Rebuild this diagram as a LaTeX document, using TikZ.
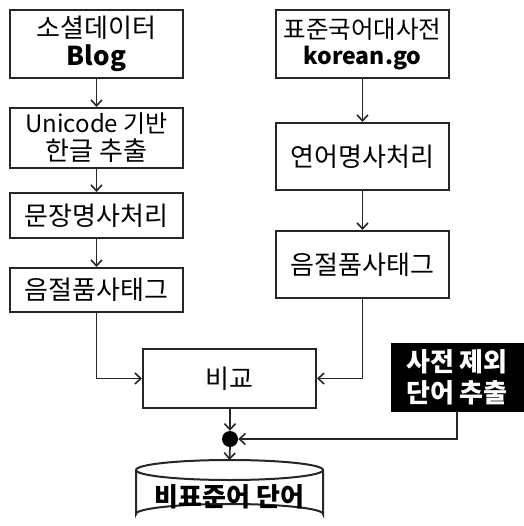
\documentclass[tikz,border=0pt]{standalone}
\usepackage{fontspec}
\setmainfont{Noto Sans CJK KR}
\usetikzlibrary{arrows.meta}
\begin{document}
\begin{tikzpicture}[x=1pt,y=-1pt,
  box/.style={draw=black!85, line width=2pt, minimum width=173pt, inner sep=0pt, align=center, font=\fontsize{26}{28}\selectfont},
  conn/.style={draw=black!85, line width=1.7pt},
  arr/.style={conn, -{Straight Barb[length=6pt,width=11pt,line width=1.6pt]}}]
\useasboundingbox (0,0) rectangle (523,526);
\fill[white] (0,0) rectangle (523,526);
% left column
\node[box, minimum height=68pt] (l1) at (96.5,44) {소셜데이터\\\textbf{Blog}};
\node[box, minimum height=60pt] (l2) at (96.5,138) {\fontsize{24}{28}\selectfont Unicode 기반\\\fontsize{26}{28}\selectfont 한글 추출};
\node[box, minimum height=45pt] (l3) at (96.5,215.5) {문장명사처리};
\node[box, minimum height=44pt] (l4) at (96.5,290) {음절품사태그};
% right column
\node[box, minimum height=68pt, font=\fontsize{24.5}{26}\selectfont] (r1) at (362.5,44) {표준국어대사전\\\fontsize{23}{26}\selectfont\textbf{korean.go}};
\node[box, minimum height=67pt] (r2) at (362.5,156.5) {연어명사처리};
\node[box, minimum height=67pt] (r3) at (362.5,264.5) {음절품사태그};
% compare
\node[box, minimum height=59pt] (cmp) at (229.5,378.5) {비교};
% black box
\node[fill=black, draw=black, minimum width=132pt, minimum height=68pt, inner sep=0pt, align=center, text=white, font=\bfseries\fontsize{26}{31}\selectfont] (ex) at (457,377) {사전 제외\\단어 추출};
% junction dot
\node[circle, fill=black, minimum size=16pt, inner sep=0pt] (dot) at (230,439) {};
% cylinder
\coordinate (cyltop) at (229.5,460);
\draw[line width=2pt, draw=black!85, fill=white]
  (136,470) -- (136,514) arc[start angle=180, end angle=360, x radius=93.5, y radius=10] -- (323,470);
\draw[line width=2pt, draw=black!85] (229.5,470) ellipse[x radius=93.5, y radius=10];
\node[font=\bfseries\fontsize{26}{28}\selectfont] (cyl) at (229.5,497) {비표준어 단어};
% connectors
\draw[arr] (l1) -- (l2);
\draw[arr] (l2) -- (l3);
\draw[arr] (l3) -- (l4);
\draw[arr] (r1) -- (r2);
\draw[arr] (r2) -- (r3);
\draw[arr] (l4.south) |- (cmp.west);
\draw[arr] (r3.south) |- (cmp.east);
\draw[arr] (cmp.south -| dot) -- (dot.north);
\draw[arr] (ex.south) |- (dot.east);
\draw[arr] (dot.south) -- (cyltop);
\end{tikzpicture}
\end{document}
